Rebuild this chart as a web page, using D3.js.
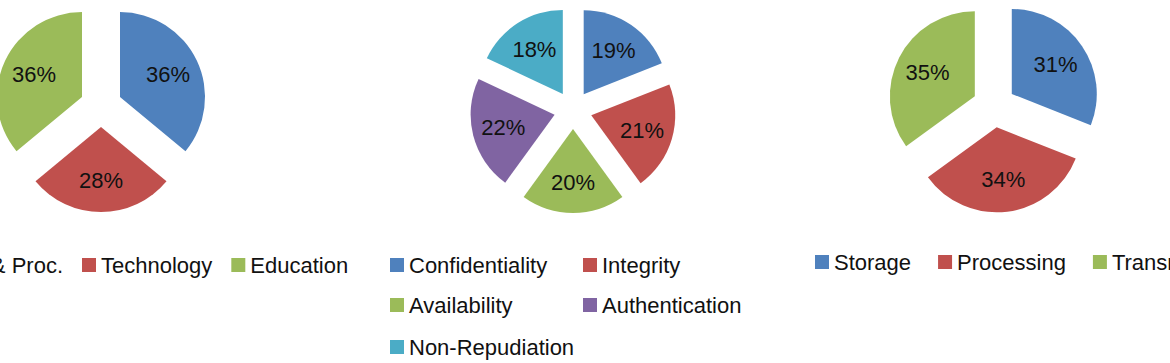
<!DOCTYPE html>
<html>
<head>
<meta charset="utf-8">
<script src="https://cdn.jsdelivr.net/npm/d3@7"></script>
<style>
  html, body { margin: 0; padding: 0; background: #fff; }
  svg { display: block; }
  text { font-family: "Liberation Sans", Arial, sans-serif; fill: #111; }
</style>
</head>
<body>
<svg id="chart" width="1170" height="363"></svg>
<script>
// ---- data ----
const pie1Categories = ["People & Proc.", "Technology", "Education"];
const pie1Values = [36, 28, 36];

const pie2Categories = ["Confidentiality", "Integrity", "Availability", "Authentication", "Non-Repudiation"];
const pie2Values = [19, 21, 20, 22, 18];

const pie3Categories = ["Storage", "Processing", "Transmission"];
const pie3Values = [31, 34, 35];

const sliceColors = ["#4F81BD", "#C0504D", "#9BBB59", "#8064A2", "#4BACC6"];

// ---- layout ----
const svg = d3.select("#chart");
const fontSize = 22;

const charts = [
  { cats: pie1Categories, vals: pie1Values, cx: 101, cy: 106, r: 85, explode: 21, labelR: 53,
    legend: { type: "row", y: 265, anchorIndex: 1, anchorX: 82, gap: 19 } },
  { cats: pie2Categories, vals: pie2Values, cx: 573, cy: 110, r: 84, explode: 19, labelR: 53,
    legend: { type: "grid", cols: [390, 583], rows: [265, 305, 347] } },
  { cats: pie3Categories, vals: pie3Values, cx: 994, cy: 106, r: 85, explode: 21.5, labelR: 53,
    legend: { type: "row", y: 262, anchorIndex: 0, anchorX: 815, gap: 27 } }
];

const marker = 14, markerGap = 5;

charts.forEach(c => {
  const total = d3.sum(c.vals);
  const pie = d3.pie().sort(null).value(d => d);
  const arcs = pie(c.vals);
  const arc = d3.arc().innerRadius(0).outerRadius(c.r);
  const g = svg.append("g").attr("transform", `translate(${c.cx},${c.cy})`);

  const slices = g.selectAll("g.slice").data(arcs).enter().append("g")
    .attr("class", "slice")
    .attr("transform", d => {
      const a = (d.startAngle + d.endAngle) / 2;
      return `translate(${Math.sin(a) * c.explode},${-Math.cos(a) * c.explode})`;
    });

  slices.append("path")
    .attr("d", arc)
    .attr("fill", (d, i) => sliceColors[i]);

  slices.append("text")
    .attr("x", d => Math.sin((d.startAngle + d.endAngle) / 2) * c.labelR)
    .attr("y", d => -Math.cos((d.startAngle + d.endAngle) / 2) * c.labelR)
    .attr("text-anchor", "middle")
    .attr("dominant-baseline", "central")
    .style("font-size", fontSize + "px")
    .text(d => Math.round(d.value / total * 100) + "%");

  // legend
  const lg = svg.append("g");
  const items = c.cats.map((name, i) => {
    const it = lg.append("g");
    it.append("rect").attr("width", marker).attr("height", marker)
      .attr("y", -marker / 2).attr("fill", sliceColors[i]);
    const t = it.append("text").attr("x", marker + markerGap)
      .attr("dominant-baseline", "central")
      .style("font-size", fontSize + "px").text(name);
    return { g: it, w: marker + markerGap + t.node().getComputedTextLength() };
  });

  if (c.legend.type === "row") {
    const L = c.legend;
    const xs = [];
    let x = 0;
    items.forEach((it, i) => { xs.push(x); x += it.w + L.gap; });
    const shift = L.anchorX - xs[L.anchorIndex];
    items.forEach((it, i) => it.g.attr("transform", `translate(${xs[i] + shift},${L.y})`));
  } else {
    const L = c.legend;
    items.forEach((it, i) => {
      const col = i % L.cols.length, row = Math.floor(i / L.cols.length);
      it.g.attr("transform", `translate(${L.cols[col]},${L.rows[row]})`);
    });
  }
});
</script>
</body>
</html>
